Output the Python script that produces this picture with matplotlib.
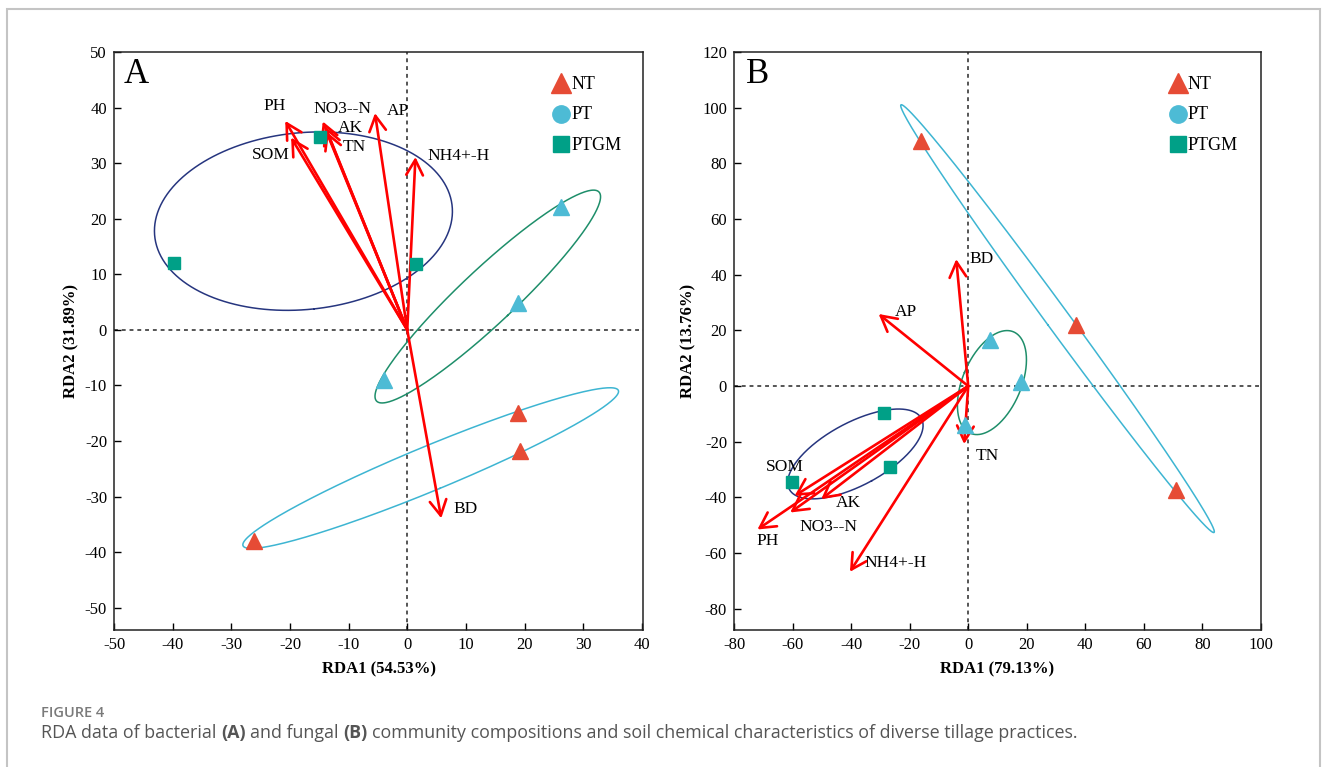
import numpy as np
import matplotlib
matplotlib.use("Agg")
import matplotlib.pyplot as plt
from matplotlib.patches import Rectangle

# ---------------- data ----------------
groups = ["NT", "PT", "PTGM"]
group_colors = {"NT": "#E64B35", "PT": "#4DBBD5", "PTGM": "#00A087"}
ellipse_colors = {"NT": "#3DB5D2", "PT": "#1E8E6A", "PTGM": "#26357F"}
plot_markers = {"NT": "^", "PT": "^", "PTGM": "s"}
legend_markers = {"NT": "^", "PT": "o", "PTGM": "s"}

# Panel A (bacteria) sample scores
a_nt_x = [18.9, 19.3, -26.2]
a_nt_y = [-14.9, -21.8, -37.9]
a_pt_x = [26.2, 18.9, -3.9]
a_pt_y = [22.2, 4.8, -9.0]
a_ptgm_x = [-39.7, 1.5, -14.9]
a_ptgm_y = [12.1, 11.9, 34.7]

# Panel A environmental vectors
a_env = ["PH", "SOM", "NO3--N", "AK", "TN", "AP", "NH4+-H", "BD"]
a_env_x = [-20.8, -19.8, -14.4, -14.0, -13.8, -5.5, 1.4, 5.8]
a_env_y = [37.6, 34.6, 37.5, 36.6, 35.7, 39.0, 31.1, -33.9]
a_lab_x = [-22.6, -23.3, -11.1, -9.7, -9.1, -1.5, 8.7, 9.9]
a_lab_y = [40.2, 31.4, 39.7, 36.4, 32.9, 39.3, 31.3, -32.2]

# Panel B (fungi) sample scores
b_nt_x = [-16.0, 36.7, 70.8]
b_nt_y = [88.1, 21.9, -37.3]
b_pt_x = [7.3, 18.1, -1.1]
b_pt_y = [16.5, 1.3, -14.0]
b_ptgm_x = [-28.6, -26.7, -60.3]
b_ptgm_y = [-9.5, -29.0, -34.6]

# Panel B environmental vectors
b_env = ["BD", "AP", "TN", "SOM", "AK", "NO3--N", "PH", "NH4+-H"]
b_env_x = [-4.1, -30.6, -1.4, -59.3, -50.2, -60.8, -72.0, -40.4]
b_env_y = [45.6, 25.9, -20.8, -39.4, -40.6, -45.4, -51.5, -66.7]
b_lab_x = [4.5, -21.4, 6.4, -62.5, -41.0, -47.6, -68.4, -24.9]
b_lab_y = [45.8, 26.7, -25.1, -29.0, -41.9, -50.5, -55.7, -63.4]

a_xticks = list(range(-50, 41, 10))
a_yticks = list(range(-50, 51, 10))
b_xticks = list(range(-80, 101, 20))
b_yticks = list(range(-80, 121, 20))

a_xlabel, a_ylabel = "RDA1 (54.53%)", "RDA2 (31.89%)"
b_xlabel, b_ylabel = "RDA1 (79.13%)", "RDA2 (13.76%)"

caption_title = "FIGURE 4"
caption_parts = [("RDA data of bacterial", "normal"), ("(A)", "bold"),
                 ("and fungal", "normal"), ("(B)", "bold"),
                 ("community compositions and soil chemical characteristics of diverse tillage practices.", "normal")]

# ---------------- drawing ----------------
SERIF = ["Liberation Serif", "DejaVu Serif"]
plt.rcParams["font.family"] = SERIF
plt.rcParams["axes.unicode_minus"] = False

fig = plt.figure(figsize=(13.3, 7.67), dpi=100)
W, H = 1330, 767

def fx(px):
    return px / W

def fy(py):
    return 1 - py / H

# outer frame
fig.patches.append(Rectangle((fx(7), -0.05), fx(1320) - fx(7), fy(9) + 0.05,
                             transform=fig.transFigure, fill=False,
                             edgecolor="#c4c4c4", linewidth=1.5))

axA = fig.add_axes([fx(114), fy(630), fx(643) - fx(114), fy(52) - fy(630)])
axB = fig.add_axes([fx(734), fy(630), fx(1261) - fx(734), fy(52) - fy(630)])


def conf_ellipse(xs, ys, k=1.5, n=300):
    xs = np.asarray(xs, float)
    ys = np.asarray(ys, float)
    cov = np.cov(xs, ys, bias=True)
    vals, vecs = np.linalg.eigh(cov)
    t = np.linspace(0, 2 * np.pi, n)
    circ = np.vstack([np.cos(t), np.sin(t)])
    pts = vecs @ (np.sqrt(np.maximum(vals, 0))[:, None] * circ) * k
    return pts[0] + xs.mean(), pts[1] + ys.mean()


def panel(ax, samples, env, ex, ey, lx, ly, xlim, ylim, xticks, yticks,
          xlabel, ylabel, letter, letter_x, leg_x):
    ax.set_xlim(*xlim)
    ax.set_ylim(*ylim)
    ax.axhline(0, color="#555555", lw=1.4, ls=(0, (2, 2)), zorder=1)
    ax.axvline(0, color="#555555", lw=1.4, ls=(0, (2, 2)), zorder=1)
    for g in groups:
        xs, ys = samples[g]
        ex_, ey_ = conf_ellipse(xs, ys)
        ax.plot(ex_, ey_, color=ellipse_colors[g], lw=1.1, zorder=2)
    for name, x, y in zip(env, ex, ey):
        ax.annotate("", xy=(x, y), xytext=(0, 0),
                    arrowprops=dict(arrowstyle="->,head_length=0.55,head_width=0.3",
                                    color="#ff0000", lw=1.9, shrinkA=0, shrinkB=0,
                                    mutation_scale=20),
                    zorder=3)
    for name, x, y in zip(env, lx, ly):
        ax.text(x, y, name, ha="center", va="center", fontsize=12.5, zorder=5)
    for g in groups:
        xs, ys = samples[g]
        ms = 11 if plot_markers[g] == "^" else 8
        ax.plot(xs, ys, ls="none", marker=plot_markers[g], ms=ms,
                color=group_colors[g], mec=group_colors[g], zorder=4)
    # legend (manual)
    for i, g in enumerate(groups):
        yy = 0.946 - i * 0.0525
        ms = {"^": 14, "o": 12.5, "s": 11}[legend_markers[g]]
        ax.plot([leg_x], [yy], marker=legend_markers[g], ms=ms,
                color=group_colors[g], ls="none", transform=ax.transAxes,
                clip_on=False, zorder=6)
        ax.text(leg_x + 0.019, yy - 0.002, g, transform=ax.transAxes,
                ha="left", va="center", fontsize=13, zorder=6)
    ax.text(letter_x, 0.946, letter, transform=ax.transAxes, ha="left",
            va="baseline", fontsize=25)
    ax.set_xticks(xticks)
    ax.set_yticks(yticks)
    ax.tick_params(direction="in", length=5, width=1, labelsize=12,
                   top=False, right=False, pad=5)
    for s in ax.spines.values():
        s.set_linewidth(1.1)
        s.set_color("#222222")
    ax.set_xlabel(xlabel, fontsize=12, fontweight="bold", labelpad=6)
    ax.set_ylabel(ylabel, fontsize=12, fontweight="bold", labelpad=4)


panel(axA, {"NT": (a_nt_x, a_nt_y), "PT": (a_pt_x, a_pt_y), "PTGM": (a_ptgm_x, a_ptgm_y)},
      a_env, a_env_x, a_env_y, a_lab_x, a_lab_y, (-50, 40.2), (-54, 50),
      a_xticks, a_yticks, a_xlabel, a_ylabel, "A", 0.019, 0.845)
panel(axB, {"NT": (b_nt_x, b_nt_y), "PT": (b_pt_x, b_pt_y), "PTGM": (b_ptgm_x, b_ptgm_y)},
      b_env, b_env_x, b_env_y, b_lab_x, b_lab_y, (-80, 100), (-87.6, 120),
      b_xticks, b_yticks, b_xlabel, b_ylabel, "B", 0.023, 0.8425)

# ---------------- caption ----------------
CAP = ["Open Sans", "DejaVu Sans"]
fig.text(fx(41), fy(717), caption_title, family=CAP, fontsize=10.5, fontweight="semibold",
         color="#7a7a7a", ha="left", va="baseline")

fig.canvas.draw()
renderer = fig.canvas.get_renderer()


def text_w(s, weight, size):
    t = fig.text(0, 0, s, family=CAP, fontsize=size, fontweight=weight)
    w = t.get_window_extent(renderer).width
    t.remove()
    return w

cap_size = 12.9
space_w = text_w("a a", "normal", cap_size) - text_w("aa", "normal", cap_size)
x = 41
for s, wgt in caption_parts:
    fig.text(fx(x), fy(738), s, family=CAP, fontsize=cap_size, fontweight=wgt,
             color="#555555", ha="left", va="baseline")
    x += text_w(s, wgt, cap_size) + space_w

fig.savefig("out.png", dpi=100)
